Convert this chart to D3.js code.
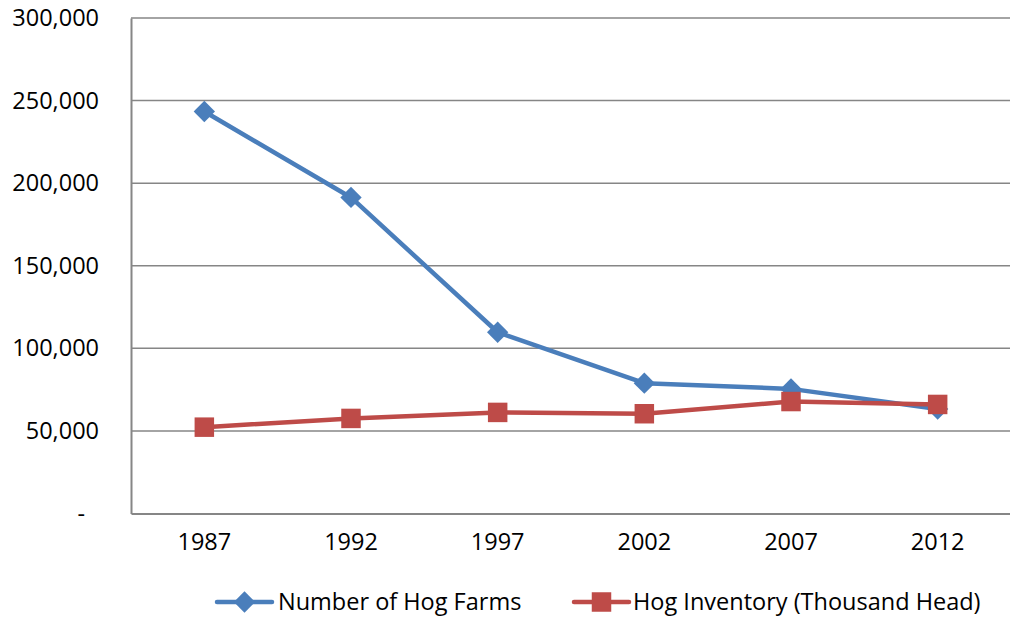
<!DOCTYPE html>
<html>
<head>
<meta charset="utf-8">
<script src="https://cdn.jsdelivr.net/npm/d3@7"></script>
<style>
  html, body { margin: 0; padding: 0; background: #fff; }
  svg { display: block; font-family: "Open Sans", Lato, sans-serif; }
</style>
</head>
<body>
<svg id="chart" width="1010" height="617"></svg>
<script>
// Census years and the two series
const years = ["1987", "1992", "1997", "2002", "2007", "2012"];
const hogFarms = [243398, 191347, 109754, 78895, 75442, 63246];
const hogInventory = [52271, 57563, 61206, 60405, 67786, 66026];
const yTicks = [0, 50000, 100000, 150000, 200000, 250000, 300000];
const seriesNames = ["Number of Hog Farms", "Hog Inventory (Thousand Head)"];

const svg = d3.select("#chart");
const plot = { left: 131, right: 1011, top: 18, bottom: 513.5 };
const fontSize = 23.5;

const x = d3.scaleBand().domain(years).range([plot.left, plot.right]);
const y = d3.scaleLinear().domain([0, 300000]).range([plot.bottom, plot.top]);

const gridColor = "#868686";
const fmt = d3.format(",");

// Horizontal gridlines
svg.append("g")
  .selectAll("line")
  .data(yTicks.filter(d => d > 0))
  .join("line")
  .attr("x1", plot.left).attr("x2", plot.right)
  .attr("y1", d => y(d)).attr("y2", d => y(d))
  .attr("stroke", gridColor).attr("stroke-width", 1.5);

// Y axis labels
const yAxis = d3.axisLeft(y)
  .tickValues(yTicks)
  .tickSize(0)
  .tickPadding(32)
  .tickFormat(d => d === 0 ? "-" : fmt(d));
const yg = svg.append("g").attr("transform", `translate(${plot.left},0)`).call(yAxis);
yg.select(".domain").attr("stroke", gridColor).attr("stroke-width", 2);
yg.selectAll("text").attr("font-size", fontSize).attr("fill", "#000")
  .attr("font-family", "'Open Sans', Lato, sans-serif");
yg.selectAll(".tick").filter(d => d === 0).select("text").attr("dx", -14);

// X axis
const xAxis = d3.axisBottom(x).tickSize(0).tickPadding(20);
const xg = svg.append("g").attr("transform", `translate(0,${plot.bottom})`).call(xAxis);
xg.select(".domain").attr("stroke", gridColor).attr("stroke-width", 2);
xg.selectAll("text").attr("font-size", fontSize).attr("fill", "#000")
  .attr("font-family", "'Open Sans', Lato, sans-serif");

const colors = ["#4a7ebb", "#be4b48"];
const seriesData = [hogFarms, hogInventory];

const line = d3.line()
  .x((d, i) => x(years[i]) + x.bandwidth() / 2)
  .y(d => y(d));

const diamond = d3.symbol().type(d3.symbolDiamond2).size(290);
const square = d3.symbol().type(d3.symbolSquare).size(380);

seriesData.forEach((vals, s) => {
  const g = svg.append("g");
  g.append("path")
    .datum(vals)
    .attr("d", line)
    .attr("fill", "none")
    .attr("stroke", colors[s])
    .attr("stroke-width", 4.5)
    .attr("stroke-linejoin", "round")
    .attr("stroke-linecap", "round");
  g.selectAll("path.marker")
    .data(vals)
    .join("path")
    .attr("class", "marker")
    .attr("d", s === 0 ? diamond : square)
    .attr("transform", (d, i) => `translate(${x(years[i]) + x.bandwidth() / 2},${y(d)})`)
    .attr("fill", colors[s]);
});

// Legend
const legendY = 602;
const legendItems = [
  { x0: 217, x1: 272, tx: 278 },
  { x0: 574, x1: 629, tx: 633 }
];
legendItems.forEach((it, s) => {
  const g = svg.append("g");
  g.append("line")
    .attr("x1", it.x0).attr("x2", it.x1)
    .attr("y1", legendY).attr("y2", legendY)
    .attr("stroke", colors[s]).attr("stroke-width", 4.5)
    .attr("stroke-linecap", "round");
  g.append("path")
    .attr("d", s === 0 ? diamond : square)
    .attr("transform", `translate(${(it.x0 + it.x1) / 2},${legendY})`)
    .attr("fill", colors[s]);
  g.append("text")
    .attr("x", it.tx).attr("y", legendY)
    .attr("dy", "0.33em")
    .attr("font-size", fontSize)
    .attr("fill", "#000")
    .text(seriesNames[s]);
});
</script>
</body>
</html>
